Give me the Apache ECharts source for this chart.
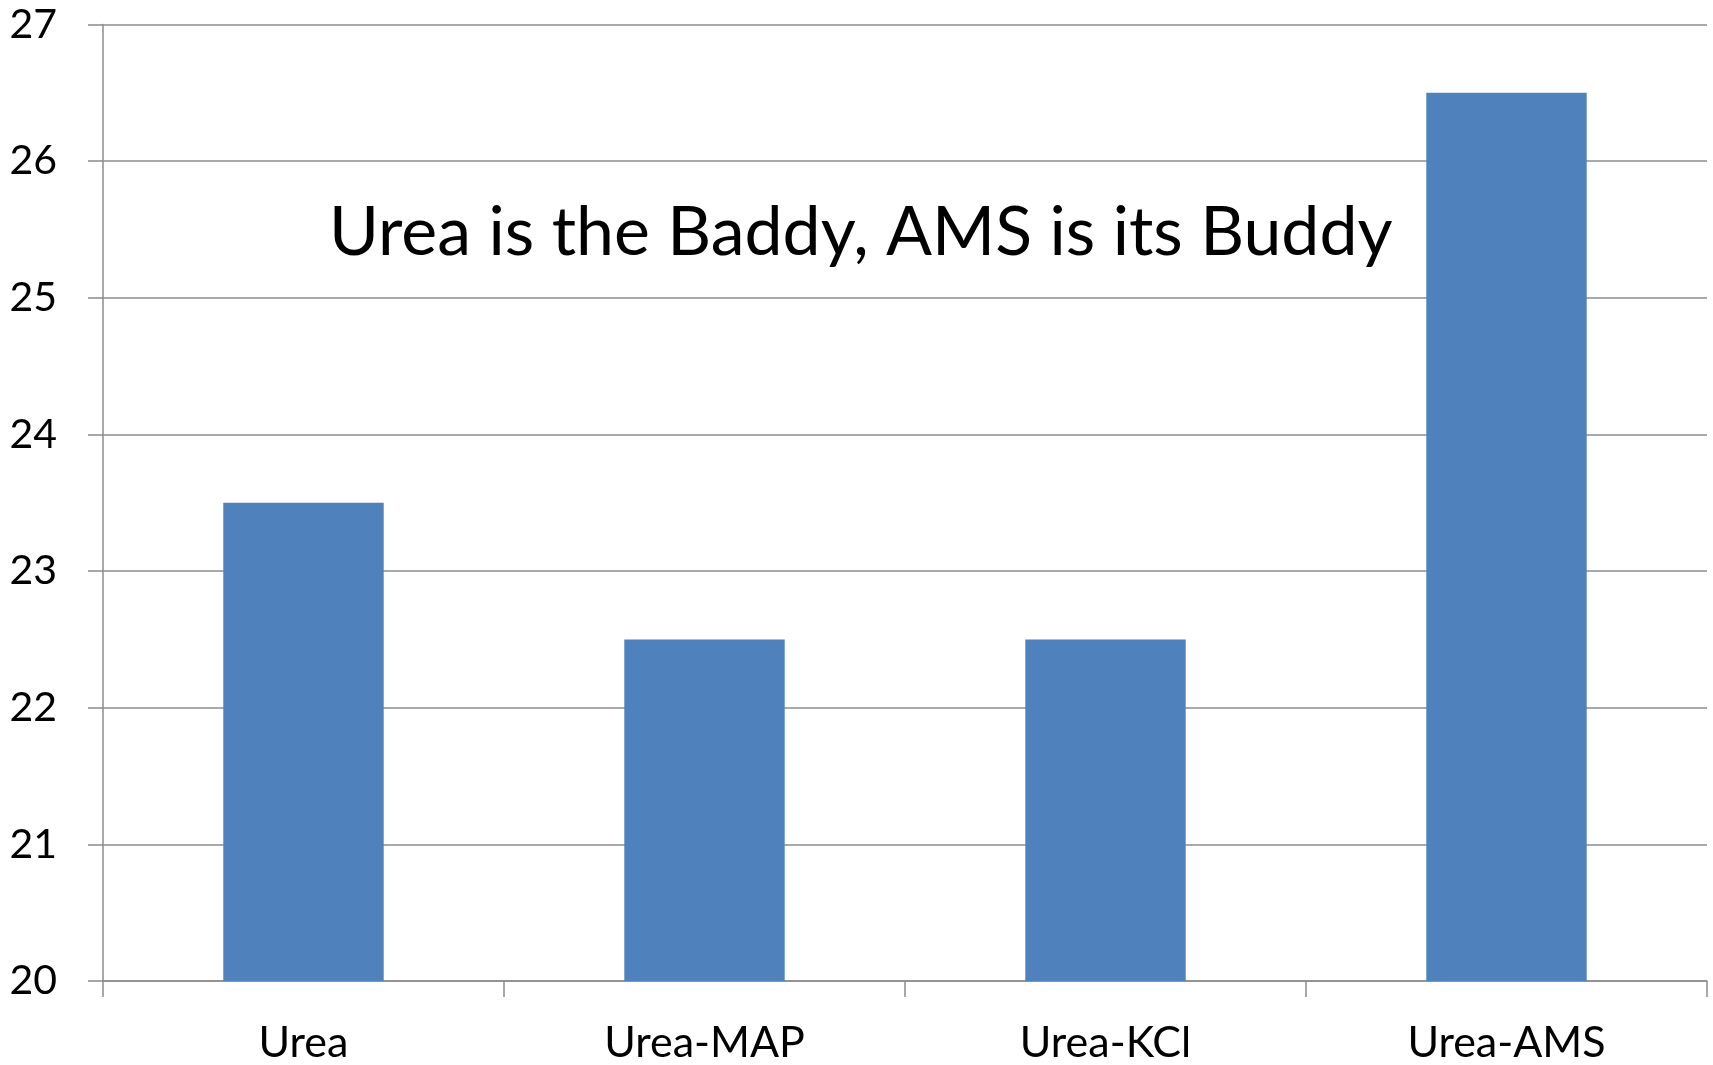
<!DOCTYPE html>
<html>
<head>
<meta charset="utf-8">
<script src="https://cdn.jsdelivr.net/npm/echarts@6/dist/echarts.min.js"></script>
<style>
html,body{margin:0;padding:0;background:#fff;}
#main{width:1713px;height:1065px;}
</style>
</head>
<body>
<div id="main"></div>
<script>
var categories = ['Urea', 'Urea-MAP', 'Urea-KCl', 'Urea-AMS'];
var values = [23.5, 22.5, 22.5, 26.5];
var titleText = 'Urea is the Baddy, AMS is its Buddy';

var myChart = echarts.init(document.getElementById('main'));
var option = {
  animation: false,
  backgroundColor: '#fff',
  title: {
    text: titleText,
    left: 324,
    top: 194,
    textStyle: {
      fontFamily: 'Lato',
      fontWeight: 'normal',
      fontSize: 68,
      color: '#000'
    }
  },
  grid: {
    left: 103,
    right: 6,
    top: 24.5,
    bottom: 84
  },
  xAxis: {
    type: 'category',
    data: categories,
    axisLine: { lineStyle: { color: '#8c8c8c', width: 1.5 } },
    axisTick: { show: true, length: 16, lineStyle: { color: '#8c8c8c', width: 1.5 } },
    axisLabel: {
      margin: 41,
      fontFamily: 'Lato',
      fontSize: 43,
      color: '#000'
    }
  },
  yAxis: {
    type: 'value',
    min: 20,
    max: 27,
    interval: 1,
    axisLine: { show: true, lineStyle: { color: '#8c8c8c', width: 1.5 } },
    axisTick: { show: true, length: 15, lineStyle: { color: '#8c8c8c', width: 1.5 } },
    axisLabel: {
      margin: 46,
      fontFamily: 'Lato',
      fontSize: 41,
      color: '#000'
    },
    splitLine: { lineStyle: { color: '#8c8c8c', width: 1.5 } }
  },
  series: [
    {
      type: 'bar',
      data: values,
      barCategoryGap: '60%',
      itemStyle: { color: '#4f81bd' }
    }
  ]
};
myChart.setOption(option);
</script>
</body>
</html>
